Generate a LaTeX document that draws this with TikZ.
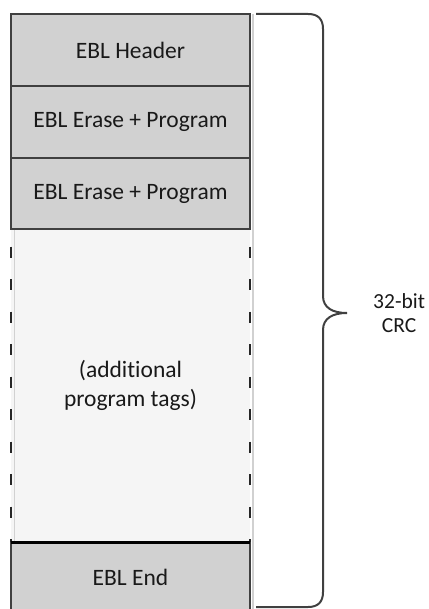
\documentclass[tikz,border=0pt]{standalone}
\usepackage{fontspec}
\setmainfont{Carlito}[Ligatures=NoCommon]
\usetikzlibrary{positioning}

\tikzset{
  tagbox/.style={draw=black!75, line width=2pt, fill=black!18, minimum width=239pt,
    inner sep=0pt, outer sep=0pt, align=center, text=black!90,
    font=\fontsize{23.5}{29}\selectfont},
  sideline/.style={black!18, line width=1.5pt},
  sidedash/.style={black!85, line width=2.5pt, dash pattern=on 11pt off 21.5pt, dash phase=15pt},
  bracket/.style={black!75, line width=2pt}
}

\begin{document}
\begin{tikzpicture}[x=1pt, y=-1pt]
\useasboundingbox (0,0) rectangle (428,609);
\clip (0,0) rectangle (428,609);

\node[tagbox, minimum height=72pt] (header) at (130.5,50) {EBL Header};
\node[tagbox, minimum height=72pt, below=0pt of header] (prog1) {EBL Erase + Program};
\node[tagbox, minimum height=71pt, below=0pt of prog1] (prog2) {EBL Erase + Program};
\node[tagbox, draw=none, fill=black!4, minimum height=313pt, below=0pt of prog2] (extra) {(additional\\program tags)};
\node[tagbox, minimum height=70pt, below=0pt of extra] (fin) {EBL End};

\draw[sideline] ([xshift=3pt]header.north east) -- ([xshift=3pt,yshift=-10pt]fin.south east);
\draw[sideline] ([xshift=3.5pt]extra.north west) -- ([xshift=3.5pt]extra.south west);
\draw[sidedash] (extra.north west) -- (extra.south west);
\draw[sidedash] (extra.north east) -- (extra.south east);
\draw[black!75, line width=2pt] (extra.north west) -- (extra.north east);
\draw[black, line width=3pt] (fin.north west) -- (fin.north east);

% brace over all tags
\draw[bracket] (256,14) -- (308,14) .. controls (318,14) and (323,19) .. (323,29)
  -- (323,296) .. controls (323,308) and (333,313) .. (347,313) coordinate (tip)
  .. controls (333,313) and (323,318) .. (323,330) -- (323,592)
  .. controls (323,602) and (318,607) .. (308,607) -- (256,607);
\node[font=\fontsize{21.5}{24}\selectfont, align=center, inner sep=0pt, text=black!90,
  right=26pt of tip] (crc) {32-bit\\CRC};
\end{tikzpicture}
\end{document}
